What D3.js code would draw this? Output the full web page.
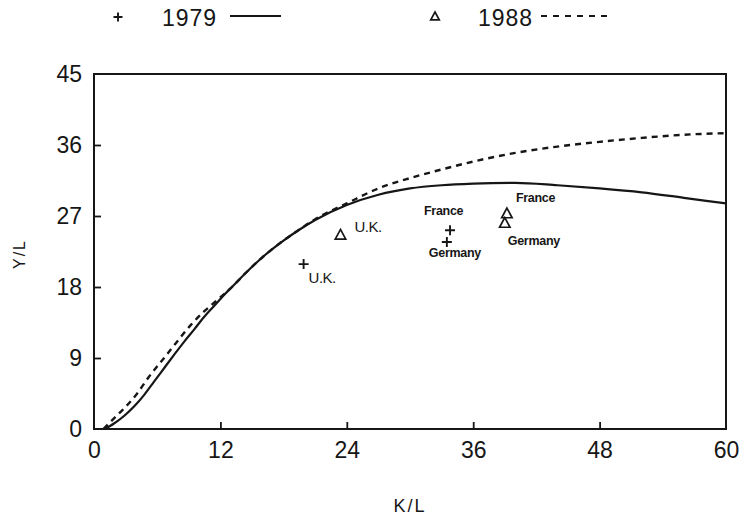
<!DOCTYPE html>
<html>
<head>
<meta charset="utf-8">
<script src="https://cdn.jsdelivr.net/npm/d3@7"></script>
<style>
  html, body { margin: 0; padding: 0; background: #fff; }
  svg { display: block; }
  text { font-family: "Liberation Sans", Arial, sans-serif; fill: #161616; }
</style>
</head>
<body>
<svg id="chart" width="746" height="516"></svg>
<script>
// ---- data ----
const xTicks = [0, 12, 24, 36, 48, 60];
const yTicks = [0, 9, 18, 27, 36, 45];
const seriesNames = ["1979", "1988"];

// Fitted frontier curves: [K/L, Y/L]
const frontier1979 = [
  [1.0, 0], [1.9, 0.7], [2.85, 1.65], [3.8, 2.85], [4.75, 4.3], [5.7, 6.0],
  [6.65, 7.7], [7.6, 9.4], [8.55, 11.05], [9.5, 12.6], [10.45, 14.2], [11.4, 15.6],
  [12.35, 17.0], [13.1, 18.0], [14.5, 19.9], [16.1, 21.9], [17.7, 23.6], [19.3, 25.1],
  [21, 26.5], [24, 28.4], [27, 29.7], [30, 30.5], [33, 30.9], [36, 31.1],
  [40, 31.2], [44, 30.9], [48, 30.5], [52, 30.0], [56, 29.3], [60, 28.6]
];
const frontier1988 = [
  [0.9, 0], [1.9, 1.35], [2.7, 2.4], [4.1, 4.5], [5.2, 6.6], [6.5, 8.75],
  [7.75, 10.85], [9.2, 13.2], [10.45, 14.9], [11.4, 16.0], [12.35, 17.1], [13.1, 18.0],
  [14.5, 19.9], [16.1, 21.9], [17.7, 23.6], [19.3, 25.1], [21, 26.6], [24, 28.6],
  [27, 30.5], [30, 31.8], [33, 32.9], [36, 33.9], [40, 35.0], [44, 35.8],
  [48, 36.4], [52, 36.9], [56, 37.3], [60, 37.5]
];

// Country observations
const countries = ["U.K.", "France", "Germany"];
const kl1979 = [19.9, 33.8, 33.5];
const yl1979 = [20.9, 25.2, 23.7];
const kl1988 = [23.4, 39.2, 39.0];
const yl1988 = [24.6, 27.3, 26.1];

// ---- layout / style ----
const svg = d3.select("#chart");
const frame = { left: 94, right: 726, top: 74, bottom: 429 };
const ink = "#161616";

const x = d3.scaleLinear().domain([0, 60]).range([frame.left, frame.right]);
const y = d3.scaleLinear().domain([0, 45]).range([frame.bottom, frame.top]);

// axes
const xAxis = d3.axisBottom(x).tickValues(xTicks).tickSizeInner(-7).tickSizeOuter(0).tickPadding(13);
const yAxis = d3.axisLeft(y).tickValues(yTicks).tickSizeInner(-7).tickSizeOuter(0).tickPadding(12);

const gx = svg.append("g").attr("transform", `translate(0,${frame.bottom})`).call(xAxis);
const gy = svg.append("g").attr("transform", `translate(${frame.left},0)`).call(yAxis);
[gx, gy].forEach(g => {
  g.select(".domain").remove();
  g.selectAll(".tick line").attr("stroke", ink).attr("stroke-width", 1.8);
  g.selectAll(".tick text").attr("fill", ink).style("font-size", "23px");
});
gx.selectAll(".tick").filter(d => d === 0 || d === 60).select("line").remove();
gy.selectAll(".tick").filter(d => d === 0 || d === 45).select("line").remove();

// frame
svg.append("rect")
  .attr("x", frame.left).attr("y", frame.top)
  .attr("width", frame.right - frame.left).attr("height", frame.bottom - frame.top)
  .attr("fill", "none").attr("stroke", ink).attr("stroke-width", 2);

// axis titles
svg.append("text").attr("x", 410).attr("y", 512).attr("text-anchor", "middle")
  .style("font-size", "18px").style("letter-spacing", "2px").text("K/L");
svg.append("text").attr("transform", "translate(25,254) rotate(-90)").attr("text-anchor", "middle")
  .style("font-size", "16px").style("letter-spacing", "2px").text("Y/L");

// curves
const line = d3.line().x(d => x(d[0])).y(d => y(d[1])).curve(d3.curveMonotoneX);
const plot = svg.append("g");
plot.append("path").datum(frontier1979).attr("d", line)
  .attr("fill", "none").attr("stroke", ink).attr("stroke-width", 2.2);
plot.append("path").datum(frontier1988).attr("d", line)
  .attr("fill", "none").attr("stroke", ink).attr("stroke-width", 2.4)
  .attr("stroke-dasharray", "6,5");

// markers
function plus(g, cx, cy, s) {
  g.append("path").attr("d", `M${cx - s},${cy}H${cx + s}M${cx},${cy - s}V${cy + s}`)
    .attr("stroke", ink).attr("stroke-width", 1.9).attr("fill", "none");
}
function tri(g, cx, cy, s) {
  g.append("path").attr("d", `M${cx},${cy - s}L${cx + s * 0.95},${cy + s * 0.75}L${cx - s * 0.95},${cy + s * 0.75}Z`)
    .attr("stroke", ink).attr("stroke-width", 1.7).attr("fill", "none");
}
countries.forEach((c, i) => plus(plot, x(kl1979[i]), y(yl1979[i]), 5));
countries.forEach((c, i) => tri(plot, x(kl1988[i]), y(yl1988[i]), 5.5));

// country labels (offsets in px relative to marker)
const labelStyle = {
  "1979": {
    "U.K.":    { dx: 5,   dy: 19,  anchor: "start",  size: 15, weight: "normal" },
    "France":  { dx: -26, dy: -15, anchor: "start",  size: 12.5, weight: "bold" },
    "Germany": { dx: 8,   dy: 15,  anchor: "middle", size: 12.5, weight: "bold" }
  },
  "1988": {
    "U.K.":    { dx: 14,  dy: -3,  anchor: "start",  size: 15, weight: "normal" },
    "France":  { dx: 9,   dy: -12, anchor: "start",  size: 12.5, weight: "bold" },
    "Germany": { dx: 3,   dy: 22,  anchor: "start",  size: 12.5, weight: "bold" }
  }
};
const obs = {
  "1979": countries.map((c, i) => ({ c, k: kl1979[i], v: yl1979[i] })),
  "1988": countries.map((c, i) => ({ c, k: kl1988[i], v: yl1988[i] }))
};
seriesNames.forEach(s => {
  obs[s].forEach(o => {
    const st = labelStyle[s][o.c];
    plot.append("text")
      .attr("x", x(o.k) + st.dx).attr("y", y(o.v) + st.dy)
      .attr("text-anchor", st.anchor)
      .style("font-size", st.size + "px").style("font-weight", st.weight)
      .style("letter-spacing", st.weight === "bold" ? "-0.3px" : "-0.5px")
      .text(o.c);
  });
});

// legend
const lg = svg.append("g");
plus(lg, 118, 17, 4.5);
lg.append("text").attr("x", 162).attr("y", 26).style("font-size", "23px").style("letter-spacing", "1px").text(seriesNames[0]);
lg.append("line").attr("x1", 230).attr("x2", 281).attr("y1", 16).attr("y2", 16)
  .attr("stroke", ink).attr("stroke-width", 2);
tri(lg, 435, 16.5, 4.5);
lg.append("text").attr("x", 478).attr("y", 26).style("font-size", "23px").style("letter-spacing", "1px").text(seriesNames[1]);
lg.append("line").attr("x1", 541).attr("x2", 607).attr("y1", 16).attr("y2", 16)
  .attr("stroke", ink).attr("stroke-width", 2).attr("stroke-dasharray", "6,6");
</script>
</body>
</html>
